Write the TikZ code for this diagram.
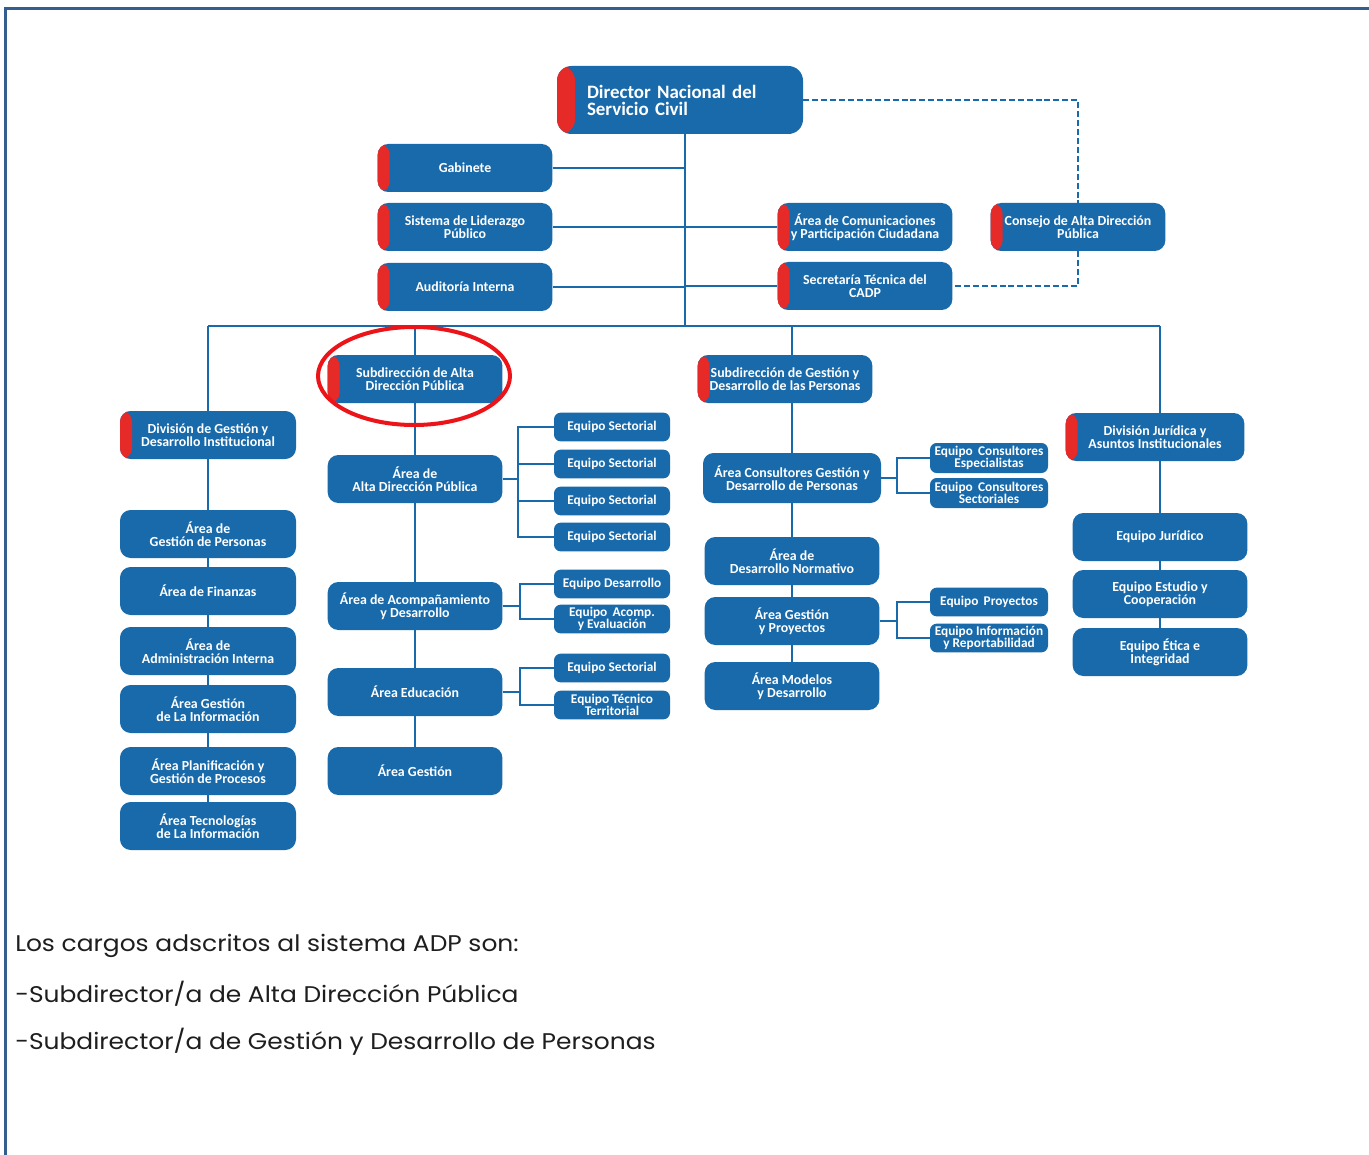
\documentclass[tikz,border=0pt]{standalone}
\usepackage{fontspec}
\setmainfont{Carlito}
\newfontfamily\notefont[FakeStretch=1.1]{Poppins}
\definecolor{boxblue}{RGB}{24,106,171}
\definecolor{stripered}{RGB}{230,42,40}
\definecolor{ringred}{RGB}{236,20,24}
\definecolor{framecol}{RGB}{52,94,142}
\definecolor{notegray}{RGB}{30,30,30}

\tikzset{
  unit/.style={fill=boxblue, text=white, align=center, inner sep=0pt,
    rounded corners=8pt, font=\bfseries\fontsize{10.4}{9.8}\selectfont},
  big/.style={unit, minimum width=131pt, minimum height=36pt},
  small/.style={unit, rounded corners=5pt, minimum width=87pt, minimum height=21.5pt,
    font=\bfseries\fontsize{10}{8.6}\selectfont},
  stripe/.style={path picture={\fill[stripered] (path picture bounding box.south west)
    rectangle ([xshift=#1]path picture bounding box.north west);}},
  head/.style={big, stripe=9pt},
  link/.style={draw=boxblue, line width=2pt},
  dashlink/.style={link, dash pattern=on 4.5pt off 2.2pt},
  note/.style={anchor=west, inner sep=0pt, text=notegray, font=\notefont\fontsize{17}{19}\selectfont}
}

\begin{document}
\begin{tikzpicture}[x=0.75pt, y=-0.75pt]
    \useasboundingbox (0,0) rectangle (1369,1155);
    \fill[white] (0,0) rectangle (1369,1155);

    % frame
    \draw[framecol, line width=2.4pt] (5.5,1155) -- (5.5,8.5) -- (1369,8.5);

    % top level
    \node[big, stripe=13.5pt, minimum width=184.5pt, minimum height=51pt, rounded corners=11pt,
          text width=139.5pt, inner xsep=22.5pt, align=left,
          font=\bfseries\fontsize{14.2}{12.8}\selectfont] (dir) at (680,100) {Director Nacional del\\Servicio Civil};

    \node[head] (gab) at (465,168) {Gabinete};
    \node[head] (lid) at (465,227) {Sistema de Liderazgo\\Público};
    \node[head] (aud) at (465,287) {Auditoría Interna};
    \node[head] (com) at (865,227) {Área de Comunicaciones\\y Participación Ciudadana};
    \node[head] (sec) at (865,286) {Secretaría Técnica del\\CADP};
    \node[head] (cons) at (1078,227) {Consejo de Alta Dirección\\Pública};

    \coordinate (top) at (685,326);
    \coordinate (left) at (208,326);
    \coordinate (right) at (1160,326);

    % second level
    \node[head, minimum width=132pt] (divg) at (208,435) {División de Gestión y\\Desarrollo Institucional};
    \node[head] (suba) at (415,379) {Subdirección de Alta\\Dirección Pública};
    \node[head] (subg) at (785,379) {Subdirección de Gestión y\\Desarrollo de las Personas};
    \node[head, minimum width=134pt] (divj) at (1155,437) {División Jurídica y\\Asuntos Institucionales};

    % column 1
    \node[big, minimum width=132pt] (agp) at (208,534) {Área de\\Gestión de Personas};
    \node[big, minimum width=132pt] (afin) at (208,591) {Área de Finanzas};
    \node[big, minimum width=132pt] (aai) at (208,651) {Área de\\Administración Interna};
    \node[big, minimum width=132pt] (agi) at (208,709) {Área Gestión\\de La Información};
    \node[big, minimum width=132pt] (apg) at (208,771) {Área Planificación y\\Gestión de Procesos};
    \node[big, minimum width=132pt] (ati) at (208,826) {Área Tecnologías\\de La Información};

    % column 2
    \node[big] (aadp) at (415,479) {Área de\\Alta Dirección Pública};
    \node[big] (aacd) at (415,606) {Área de Acompañamiento\\y Desarrollo};
    \node[big] (aedu) at (415,692) {Área Educación};
    \node[big] (ages) at (415,771) {Área Gestión};

    \node[small] (es1) at (612,427) {Equipo Sectorial};
    \node[small] (es2) at (612,464) {Equipo Sectorial};
    \node[small] (es3) at (612,501) {Equipo Sectorial};
    \node[small] (es4) at (612,537) {Equipo Sectorial};
    \node[small] (edes) at (612,584) {Equipo Desarrollo};
    \node[small] (eae) at (612,619) {Equipo\, Acomp.\\y Evaluación};
    \node[small] (es5) at (612,668) {Equipo Sectorial};
    \node[small] (ett) at (612,705) {Equipo Técnico\\Territorial};

    % column 3
    \node[big, minimum width=133.5pt, minimum height=37.5pt] (acgd) at (792,478) {Área Consultores Gestión y\\Desarrollo de Personas};
    \node[big] (adn) at (792,561) {Área de\\Desarrollo Normativo};
    \node[big] (agy) at (792,621) {Área Gestión\\y Proyectos};
    \node[big] (amod) at (792,686) {Área Modelos\\y Desarrollo};

    \node[small, minimum width=88.5pt, minimum height=22.5pt] (ece) at (989,458) {Equipo\, Consultores\\Especialistas};
    \node[small, minimum width=88.5pt, minimum height=22.5pt] (ecs) at (989,493) {Equipo\, Consultores\\Sectoriales};
    \node[small, minimum width=88.5pt] (ep) at (989,602) {Equipo\, Proyectos};
    \node[small, minimum width=88.5pt] (eir) at (989,638) {Equipo Información\\y Reportabilidad};

    % column 4
    \node[big] (ej) at (1160,537) {Equipo Jurídico};
    \node[big] (eec) at (1160,594) {Equipo Estudio y\\Cooperación};
    \node[big] (eei) at (1160,652) {Equipo Ética e\\Integridad};

    % connectors
    \draw[link] (dir.south -| top) -- (top);
    \foreach \n in {gab,lid,aud}
        \draw[link] (\n.east) -- (\n.east -| top);
    \foreach \n in {com,sec}
        \draw[link] (\n.west) -- (\n.west -| top);
    \draw[link] (left) -- (right);
    \draw[link] (left) -- (divg.north);
    \draw[link] (suba.north |- left) -- (suba.north);
    \draw[link] (acgd.north |- left) -- (subg.north -| acgd);
    \draw[link] (right) -- (divj.north -| right);

    \draw[dashlink] (dir.east) -| (cons.north);
    \draw[dashlink] (cons.south) |- (sec.east);

    \foreach \a/\b in {divg/agp, agp/afin, afin/aai, aai/agi, agi/apg, apg/ati,
                       suba/aadp, aadp/aacd, aacd/aedu, aedu/ages,
                       acgd/adn, adn/agy, agy/amod, ej/eec, eec/eei}
        \draw[link] (\a.south) -- (\b.north);
    \draw[link] (subg.south -| acgd) -- (acgd.north);
    \draw[link] (divj.south -| ej) -- (ej.north);

    \coordinate (j1) at (518,479);
    \coordinate (j2) at (520,606);
    \coordinate (j3) at (520,692);
    \coordinate (j4) at (897,478);
    \coordinate (j5) at (897,621);
    \draw[link] (aadp.east) -- (j1);
    \foreach \n in {es1,es2,es3,es4}
        \draw[link] (j1) |- (\n.west);
    \draw[link] (aacd.east) -- (j2);
    \foreach \n in {edes,eae}
        \draw[link] (j2) |- (\n.west);
    \draw[link] (aedu.east) -- (j3);
    \foreach \n in {es5,ett}
        \draw[link] (j3) |- (\n.west);
    \draw[link] (acgd.east) -- (j4);
    \foreach \n in {ece,ecs}
        \draw[link] (j4) |- (\n.west);
    \draw[link] (agy.east) -- (j5);
    \foreach \n in {ep,eir}
        \draw[link] (j5) |- (\n.west);

    % highlight
    \draw[ringred, line width=3pt] (414,376) ellipse [x radius=96, y radius=49];

    % note
    \node[note] (n1) at (15,946) {Los cargos adscritos al sistema ADP son:};
    \node[note] (n2) at (15,994) {-Subdirector/a de Alta Dirección Pública};
    \node[note] (n3) at (15,1042) {-Subdirector/a de Gestión y Desarrollo de Personas};
\end{tikzpicture}
\end{document}
